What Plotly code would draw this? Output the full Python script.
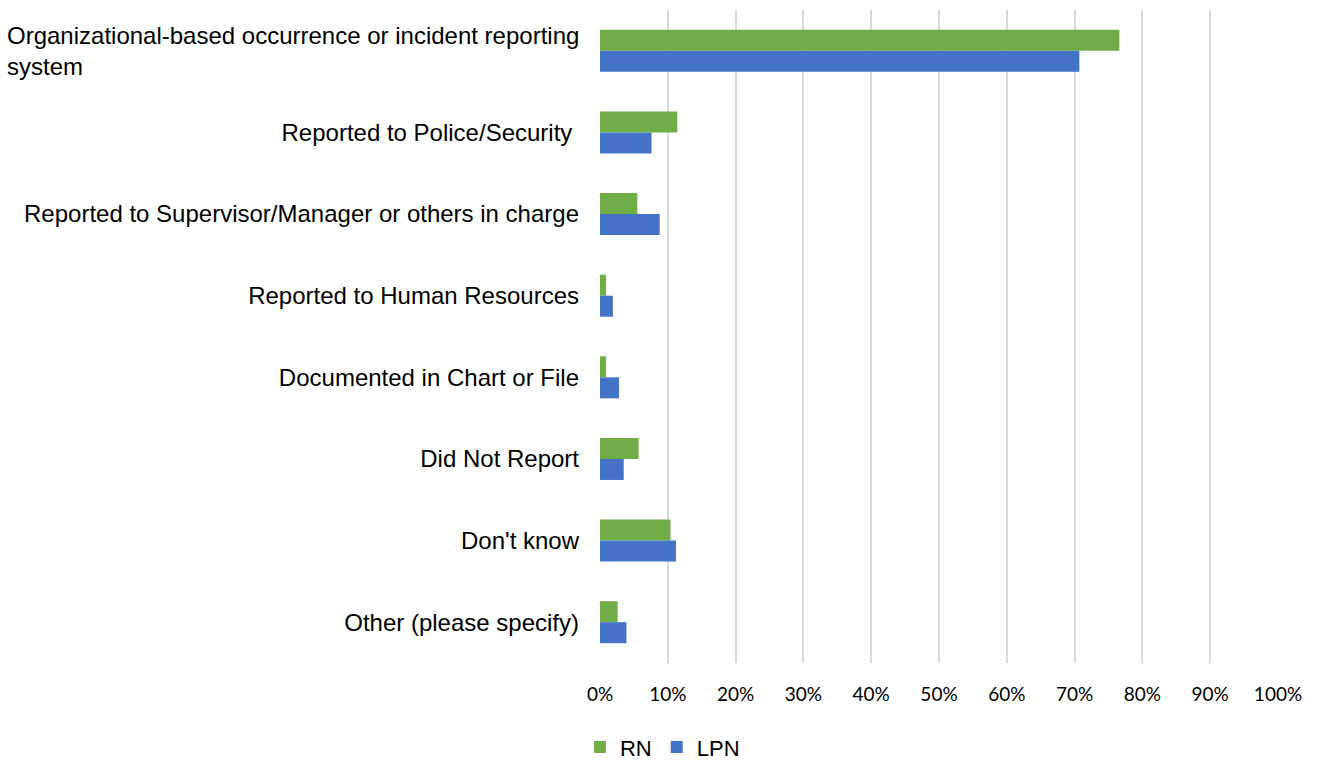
import plotly.graph_objects as go

categories = [
    "Organizational-based occurrence or incident reporting<br>system",
    "Reported to Police/Security ",
    "Reported to Supervisor/Manager or others in charge",
    "Reported to Human Resources",
    "Documented in Chart or File",
    "Did Not Report",
    "Don't know",
    "Other (please specify)",
]
cat_ids = ["c%d" % i for i in range(len(categories))]
rn_values = [76.6, 11.4, 5.5, 0.9, 0.9, 5.7, 10.4, 2.6]
lpn_values = [70.7, 7.6, 8.8, 1.9, 2.8, 3.5, 11.2, 3.9]
x_ticks = list(range(0, 101, 10))
x_tick_labels = ["%d%%" % v for v in x_ticks]

GREEN = "#70AD47"
BLUE = "#4472C4"
FONT = "Liberation Sans, Arial, sans-serif"
TICKFONT = "Lato, Carlito, sans-serif"

fig = go.Figure()
fig.add_trace(go.Bar(y=cat_ids, x=rn_values, name="RN", orientation="h",
                     marker=dict(color=GREEN, line=dict(width=0))))
fig.add_trace(go.Bar(y=cat_ids, x=lpn_values, name="LPN", orientation="h",
                     marker=dict(color=BLUE, line=dict(width=0))))

ticktext = [c if i != 0 else "" for i, c in enumerate(categories)]

fig.add_annotation(
    text=categories[0], xref="paper", yref="y", x=0, y=cat_ids[0],
    xanchor="right", yanchor="middle", align="left", xshift=-19, showarrow=False,
    font=dict(family=FONT, size=24, color="#000000"),
)

fig.update_layout(
    width=1317, height=761,
    margin=dict(l=600, r=39, t=10, b=98, autoexpand=False),
    paper_bgcolor="white", plot_bgcolor="white",
    barmode="group", bargap=0.485, bargroupgap=0,
    font=dict(family=FONT, color="#000000"),
    showlegend=True,
    legend=dict(orientation="h", xref="container", yref="container",
                x=0.503, xanchor="center", y=0.018, yanchor="middle",
                font=dict(family=FONT, size=22, color="#000000"),
                itemwidth=30, traceorder="normal"),
    xaxis=dict(range=[0, 100], tickvals=x_ticks, ticktext=x_tick_labels,
               showgrid=True, gridcolor="#D9D9D9", gridwidth=2,
               zeroline=False, showline=False, ticks="",
               tickfont=dict(family=TICKFONT, size=19, color="#000000"),
               ticklabelstandoff=18, automargin=False),
    yaxis=dict(tickvals=cat_ids, ticktext=ticktext, autorange="reversed",
               showgrid=False, zeroline=False, showline=False, ticks="",
               tickfont=dict(family=FONT, size=24, color="#000000"),
               ticklabelstandoff=20, automargin=False),
)

fig.write_html("out.html", config={"displayModeBar": False},
               post_script="document.body.style.margin='0';")
